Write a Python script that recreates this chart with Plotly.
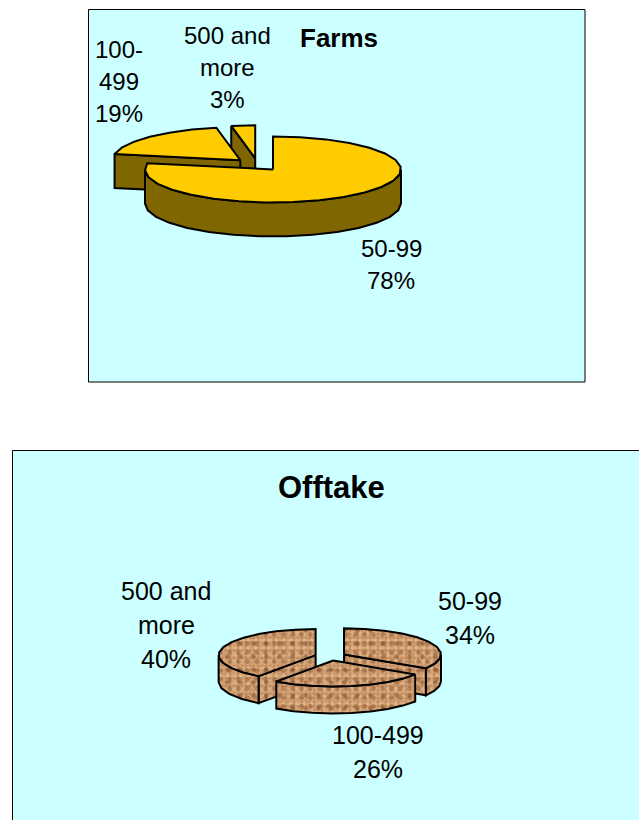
import math
import plotly.graph_objects as go

# ---- data ----
farm_categories = ["50-99", "100-499", "500 and more"]
farm_values = [78, 19, 3]
farm_label_lines = [["50-99"], ["100-", "499"], ["500 and", "more"]]
offtake_categories = ["50-99", "100-499", "500 and more"]
offtake_values = [34, 26, 40]
offtake_label_lines = [["50-99"], ["100-499"], ["500 and", "more"]]

FONT = "Liberation Sans, Arial, sans-serif"
BG = "#CCFFFF"
W, H = 639, 820
fig = go.Figure()


def arc(cx, cy, rx, ry, a0, a1, dy=0, step=12):
    n = max(1, round((a1 - a0) / step))
    pts = []
    for i in range(n + 1):
        t = math.radians(a0 + (a1 - a0) * i / n)
        pts.append((cx + rx * math.sin(t), cy - ry * math.cos(t) + dy))
    return pts


def poly(pts, fill):
    xs = [p[0] for p in pts] + [pts[0][0]]
    ys = [p[1] for p in pts] + [pts[0][1]]
    if isinstance(fill, str):
        fig.add_trace(go.Scatter(x=xs, y=ys, mode="lines", fill="toself", fillcolor=fill,
                                 line=dict(color="black", width=2), hoverinfo="skip", showlegend=False))
    else:
        for k, layer in enumerate(fill):
            last = k == len(fill) - 1
            fig.add_trace(go.Scatter(
                x=xs, y=ys, mode="lines", fill="toself", fillcolor="rgba(0,0,0,0)",
                fillpattern=layer,
                line=dict(color="black" if last else "rgba(0,0,0,0)", width=2),
                hoverinfo="skip", showlegend=False))


def pie3d(values, cx, cy, rx, ry, depth, pull, top, wall):
    total = sum(values)
    slices = []
    a = 0.0
    for v in values:
        a1 = a + 360.0 * v / total
        mid = math.radians((a + a1) / 2)
        ax = cx + rx * pull * math.sin(mid)
        ay = cy - ry * pull * math.cos(mid)
        slices.append((ay, ax, a, a1))
        a = a1
    for ay, ax, a0, a1 in sorted(slices):
        # visible radial cut faces
        if math.sin(math.radians(a0)) < -1e-6:
            rim = arc(ax, ay, rx, ry, a0, a0)[0]
            poly([(ax, ay), rim, (rim[0], rim[1] + depth), (ax, ay + depth)], wall)
        if math.sin(math.radians(a1)) > 1e-6:
            rim = arc(ax, ay, rx, ry, a1, a1)[0]
            poly([(ax, ay), rim, (rim[0], rim[1] + depth), (ax, ay + depth)], wall)
        # visible outer wall
        w0, w1 = max(a0, 90), min(a1, 270)
        if w1 > w0:
            poly(arc(ax, ay, rx, ry, w0, w1) + arc(ax, ay, rx, ry, w0, w1, depth)[::-1], wall)
        # top face
        poly([(ax, ay)] + arc(ax, ay, rx, ry, a0, a1), top)


def stack_text(lines, x, y0, step, size, bold=False):
    for i, t in enumerate(lines):
        fig.add_annotation(x=x, y=y0 + i * step, text=f"<b>{t}</b>" if bold else t, showarrow=False,
                           xanchor="center", yanchor="middle",
                           font=dict(family=FONT, size=size, color="black"))


# panels
panel_line = dict(color="black", width=1)
fig.add_shape(type="rect", x0=88.5, x1=585, y0=9.5, y1=382, fillcolor=BG, line=panel_line, layer="below")
fig.add_shape(type="rect", x0=12.5, x1=645, y0=450.5, y1=830, fillcolor=BG, line=panel_line, layer="below")

# Farms pie
pie3d(farm_values, 257.5, 164.6, 128, 33, 34, 0.19, "#FFCC00", "#806600")

# Offtake pie
stone = [
    dict(shape=".", size=4, solidity=0.45, fgcolor="#A87044", bgcolor="#D3A274"),
    dict(shape=".", size=7, solidity=0.30, fgcolor="#E9C79C", bgcolor="rgba(0,0,0,0)"),
    dict(shape=".", size=9, solidity=0.22, fgcolor="#8E5A34", bgcolor="rgba(0,0,0,0)"),
    dict(shape=".", size=13, solidity=0.10, fgcolor="#7A4526", bgcolor="rgba(0,0,0,0)"),
]
pie3d(offtake_values, 330.4, 656.4, 97, 26, 27, 0.16, stone, stone)

# Text
stack_text(["Farms"], 339, 38, 0, 26, bold=True)
stack_text(["Offtake"], 331, 487, 0, 31, bold=True)
farm_pos = [(391, 248), (119, 49), (227, 35)]
for lines, v, (x, y) in zip(farm_label_lines, farm_values, farm_pos):
    stack_text(lines + [f"{v}%"], x, y, 32, 24)
off_pos = [(470, 601), (378, 735), (166, 591)]
for lines, v, (x, y) in zip(offtake_label_lines, offtake_values, off_pos):
    stack_text(lines + [f"{v}%"], x, y, 34, 25)

fig.update_layout(
    width=W, height=H, margin=dict(l=0, r=0, t=0, b=0), autosize=False,
    paper_bgcolor="white", plot_bgcolor="white", showlegend=False,
    xaxis=dict(range=[0, W], visible=False, fixedrange=True),
    yaxis=dict(range=[H, 0], visible=False, fixedrange=True),
)
fig.write_html("out.html", config={"displayModeBar": False},
               post_script="document.body.style.margin='0';document.documentElement.style.overflow='hidden';")
